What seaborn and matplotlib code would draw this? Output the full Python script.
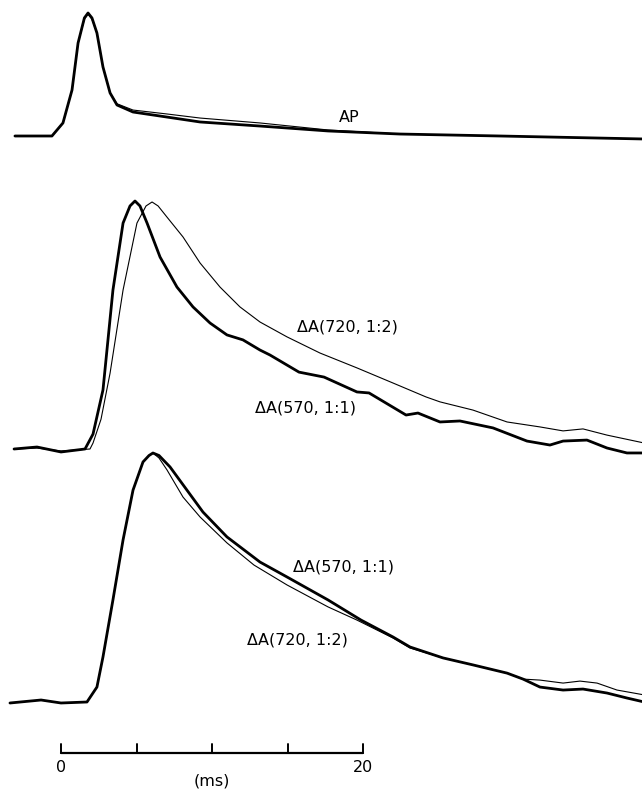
import numpy as np
import pandas as pd
import matplotlib
matplotlib.use("Agg")
import matplotlib.pyplot as plt
import seaborn as sns

sns.set_theme(style="white")
plt.rcParams['font.family'] = ['DejaVu Sans']
plt.rcParams['text.color'] = 'black'

# ---- data (time in ms, amplitude normalised to peak) ----
ap_thick_t = [-3.05, -0.60, 0.13, 0.73, 1.13, 1.55, 1.79, 2.05, 2.38, 2.78, 3.25, 3.71, 4.77, 7.02, 9.21, 13.18, 17.68, 22.45, 29.07, 38.48]
ap_thick_a = [0, 0, 0.106, 0.374, 0.756, 0.96, 1.0, 0.96, 0.837, 0.561, 0.350, 0.252, 0.195, 0.154, 0.114, 0.081, 0.041, 0.016, 0.0, -0.024]
ap_thin_t = [-3.05, -0.60, 0.13, 0.73, 1.13, 1.55, 1.79, 2.05, 2.38, 2.78, 3.25, 3.71, 4.77, 7.02, 9.21, 13.18, 17.68, 22.45, 29.07, 38.48]
ap_thin_a = [0, 0, 0.106, 0.374, 0.756, 0.95, 0.99, 0.95, 0.837, 0.561, 0.350, 0.262, 0.211, 0.179, 0.146, 0.106, 0.049, 0.016, 0.0, -0.024]

mid570_t = [-3.11, -1.59, 0.0, 1.59, 2.12, 2.78, 3.44, 4.11, 4.57, 4.90, 5.23, 5.70, 6.56, 7.68, 8.74, 9.87, 10.99, 12.05, 13.18, 13.84,
            15.76, 17.42, 19.60, 20.40, 22.85, 23.64, 25.10, 26.42, 28.61, 30.86, 32.38, 33.25, 34.83, 36.16, 37.48, 38.48]
mid570_a = [0, 0.008, -0.012, 0, 0.06, 0.238, 0.641, 0.911, 0.98, 1.0, 0.98, 0.911, 0.774, 0.653, 0.573, 0.508, 0.460, 0.440, 0.399, 0.379,
            0.310, 0.290, 0.230, 0.226, 0.137, 0.145, 0.109, 0.113, 0.085, 0.032, 0.016, 0.032, 0.036, 0.004, -0.016, -0.016]
mid720_t = [-3.11, -1.59, 0.0, 1.92, 2.12, 2.65, 3.25, 4.11, 5.03, 5.63, 6.03, 6.43, 7.02, 8.08, 9.21, 10.53, 11.85, 13.18, 14.97, 17.15,
            19.60, 21.99, 24.17, 25.10, 27.28, 29.54, 31.72, 33.25, 34.57, 36.16, 38.48]
mid720_a = [0, 0.004, -0.008, 0, 0.024, 0.12, 0.306, 0.641, 0.911, 0.98, 0.996, 0.98, 0.935, 0.855, 0.750, 0.653, 0.573, 0.512, 0.452, 0.387,
            0.327, 0.266, 0.210, 0.190, 0.157, 0.109, 0.089, 0.073, 0.081, 0.056, 0.026]

bot570_t = [-3.38, -1.32, 0.0, 1.72, 2.38, 2.78, 3.44, 4.11, 4.77, 5.43, 5.83, 6.09, 6.49, 7.22, 8.34, 9.40, 10.99, 13.18, 14.97, 17.68,
            19.87, 21.99, 23.11, 25.30, 27.28, 29.54, 30.60, 31.72, 33.25, 34.57, 36.16, 37.48, 38.48]
bot570_a = [-0.004, 0.008, -0.004, 0, 0.060, 0.181, 0.410, 0.651, 0.851, 0.964, 0.99, 1.0, 0.99, 0.944, 0.851, 0.763, 0.663, 0.562, 0.502,
            0.410, 0.329, 0.261, 0.221, 0.177, 0.149, 0.116, 0.092, 0.060, 0.048, 0.052, 0.036, 0.016, 0.002]
bot720_t = [-3.38, -1.32, 0.0, 1.72, 2.38, 2.78, 3.44, 4.11, 4.77, 5.43, 5.83, 6.09, 6.49, 7.02, 8.08, 9.21, 10.99, 12.78, 14.97, 17.68,
            19.60, 21.99, 23.11, 25.30, 27.28, 29.54, 30.60, 31.72, 33.25, 34.37, 35.50, 36.82, 38.48]
bot720_a = [-0.004, 0.008, -0.004, 0, 0.060, 0.181, 0.410, 0.651, 0.851, 0.964, 0.99, 1.0, 0.98, 0.932, 0.823, 0.743, 0.639, 0.550, 0.470,
            0.382, 0.329, 0.257, 0.217, 0.177, 0.149, 0.116, 0.092, 0.088, 0.076, 0.084, 0.076, 0.048, 0.030]

scale_ticks = [0, 5, 10, 15, 20]
scale_labels = ["0", "20"]

# ---- layout ----
fig = plt.figure(figsize=(6.42, 7.92), dpi=100)
ax = fig.add_axes([0, 0, 1, 1])
ax.set_xlim(-61 / 15.1, 581 / 15.1)
ax.set_ylim(0, 792)
ax.axis("off")

THICK, THIN = 2.0, 0.8
panels = [
    # (t, a, base, scale, lw)
    (ap_thin_t, ap_thin_a, 656, 123, THIN),
    (ap_thick_t, ap_thick_a, 656, 123, THICK),
    (mid720_t, mid720_a, 343, 248, THIN),
    (mid570_t, mid570_a, 343, 248, THICK),
    (bot720_t, bot720_a, 90, 249, THIN),
    (bot570_t, bot570_a, 90, 249, THICK),
]
for t, a, base, sc, lw in panels:
    y = base + sc * np.asarray(a)
    sns.lineplot(x=np.asarray(t), y=y, ax=ax, color="black", linewidth=lw,
                 estimator=None, sort=False, legend=False)

fs = 11.5
ax.text(19.07, 675, "AP", ha="center", va="center", fontsize=fs)
ax.text(18.94, 465, "ΔA(720, 1:2)", ha="center", va="center", fontsize=fs)
ax.text(16.16, 384, "ΔA(570, 1:1)", ha="center", va="center", fontsize=fs)
ax.text(18.68, 225, "ΔA(570, 1:1)", ha="center", va="center", fontsize=fs)
ax.text(15.63, 152, "ΔA(720, 1:2)", ha="center", va="center", fontsize=fs)

# scale bar
ax.plot([scale_ticks[0], scale_ticks[-1]], [39, 39], color="black", lw=1.6)
for tk in scale_ticks:
    ax.plot([tk, tk], [39, 48], color="black", lw=1.4)
ax.text(scale_ticks[0], 25, scale_labels[0], ha="center", va="center", fontsize=fs)
ax.text(scale_ticks[-1], 25, scale_labels[1], ha="center", va="center", fontsize=fs)
ax.text(10, 11, "(ms)", ha="center", va="center", fontsize=fs)

fig.savefig("out.png", dpi=100, facecolor="white")
